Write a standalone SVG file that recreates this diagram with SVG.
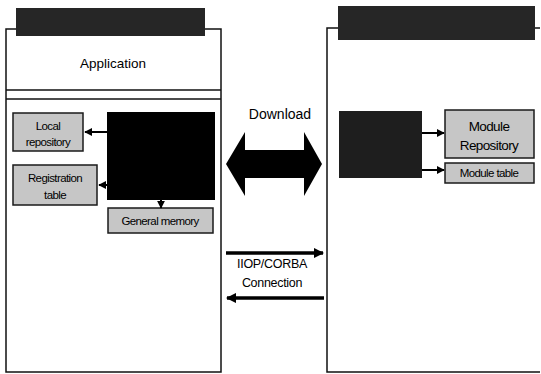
<svg xmlns="http://www.w3.org/2000/svg" width="541" height="374" viewBox="0 0 541 374">
<defs>
<style>
.frame{fill:none;stroke:#111;stroke-width:1.5}
.banner{fill:#262626}
.gbox{fill:#c6c6c6;stroke:#1a1a1a;stroke-width:1.5}
.t{font-family:"Liberation Sans",Arial,sans-serif;fill:#000}
.s{font-size:11.5px;letter-spacing:-0.6px}
.m{font-size:13.5px}
.conn{stroke:#000;stroke-width:2;fill:none}
.thick{stroke:#000;stroke-width:3.5;fill:none}
</style>
<marker id="ah" viewBox="0 0 10 10" refX="9" refY="5" markerWidth="4" markerHeight="4" orient="auto-start-reverse">
<path d="M0,0 L10,5 L0,10 z" fill="#000"/>
</marker>
<marker id="ah2" viewBox="0 0 10 10" refX="9" refY="5" markerWidth="3" markerHeight="3" orient="auto-start-reverse">
<path d="M0,0 L10,5 L0,10 z" fill="#000"/>
</marker>
</defs>
<rect width="541" height="374" fill="#fff"/>

<g id="client">
<rect class="frame" x="6" y="29" width="215" height="343"/>
<line class="frame" x1="6" y1="90" x2="221" y2="90"/>
<line class="frame" x1="6" y1="99" x2="221" y2="99"/>
<rect class="banner" x="16" y="8" width="189" height="28"/>
<text class="t m" x="113" y="68" text-anchor="middle">Application</text>
</g>

<g id="client-core">
<rect x="107" y="112" width="108" height="88" fill="#000"/>
</g>
<g id="local-repository">
<rect class="gbox" x="13" y="113" width="70" height="38"/>
<text class="t s" x="48" y="130" text-anchor="middle">Local</text>
<text class="t s" x="48" y="146" text-anchor="middle">repository</text>
</g>
<g id="registration-table">
<rect class="gbox" x="13" y="165" width="84" height="40"/>
<text class="t s" x="55" y="182" text-anchor="middle">Registration</text>
<text class="t s" x="55" y="199" text-anchor="middle">table</text>
</g>
<g id="general-memory">
<rect class="gbox" x="108" y="208" width="105" height="25"/>
<text class="t s" x="160" y="225" text-anchor="middle">General memory</text>
</g>

<g id="server">
<polyline class="frame" points="540,28 327,28 327,372 540,372"/>
<rect class="banner" x="338" y="6" width="197" height="34"/>
</g>
<g id="server-core">
<rect x="339" y="111" width="83" height="67" fill="#1e1e1e"/>
</g>
<g id="module-repository">
<rect class="gbox" x="445" y="110" width="89" height="48"/>
<text class="t m" x="489" y="131" text-anchor="middle" letter-spacing="-0.6">Module</text>
<text class="t m" x="489" y="150" text-anchor="middle" letter-spacing="-0.6">Repository</text>
</g>
<g id="module-table">
<rect class="gbox" x="445" y="163" width="89" height="20"/>
<text class="t s" x="489" y="177" text-anchor="middle">Module table</text>
</g>

<g id="download">
<text class="t" font-size="14" x="280" y="119" text-anchor="middle">Download</text>
<polygon points="226,164 245,132 245,150 304,150 304,132 322,164 304,196 304,178 245,178 245,196" fill="#000"/>
</g>

<g id="iiop">
<text class="t" font-size="12.5" x="272" y="268" text-anchor="middle" letter-spacing="-0.3">IIOP/CORBA</text>
<text class="t" font-size="12.5" x="272" y="287" text-anchor="middle" letter-spacing="-0.3">Connection</text>
</g>

<g id="connectors">
<line class="conn" x1="107" y1="132" x2="85" y2="132" marker-end="url(#ah)"/>
<line class="conn" x1="107" y1="185" x2="99" y2="185" marker-end="url(#ah)"/>
<line class="conn" x1="161" y1="200" x2="161" y2="208" marker-end="url(#ah)"/>
<line class="conn" x1="422" y1="133" x2="444" y2="133" marker-end="url(#ah)"/>
<line class="conn" x1="422" y1="170" x2="444" y2="170" marker-end="url(#ah)"/>
<line class="thick" x1="226" y1="253" x2="323" y2="253" marker-end="url(#ah2)"/>
<line class="thick" x1="324" y1="298" x2="227" y2="298" marker-end="url(#ah2)"/>
</g>
</svg>
